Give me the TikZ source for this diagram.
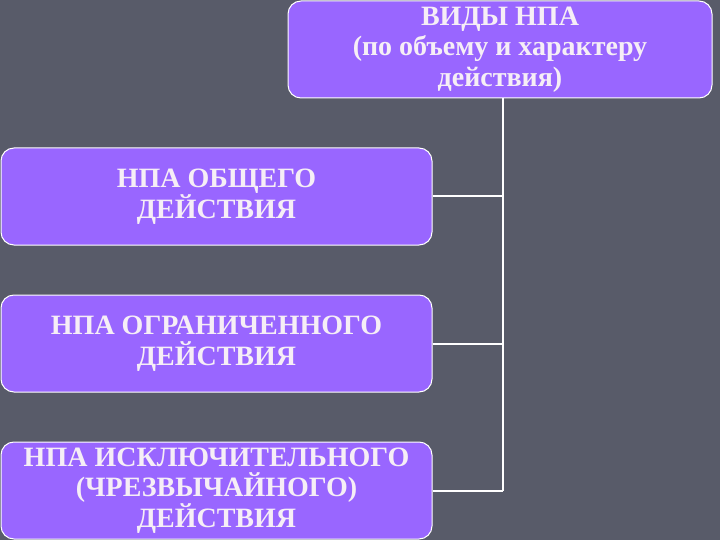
\documentclass[tikz,border=0pt]{standalone}
\usepackage{fontspec}
\setmainfont{Liberation Serif}
\begin{document}
\begin{tikzpicture}[x=1pt,y=-1pt]
\definecolor{bg}{HTML}{585B69}
\definecolor{boxfill}{HTML}{9966FF}
\definecolor{txt}{HTML}{F6EEF6}
\tikzset{
  box/.style={draw=white, line width=1pt, fill=boxfill, rounded corners=13pt,
    text=txt, align=center, inner sep=0pt,
    font=\bfseries\fontsize{28}{30.5}\selectfont},
  link/.style={draw=white, line width=2pt},
}
\fill[bg] (0,0) rectangle (720,540);
\useasboundingbox (0,0) rectangle (720,540);
\node[box, minimum width=424pt, minimum height=97pt] (top) at (500,49.5)
  {ВИДЫ НПА\\(по объему и характеру\\действия)};
\node[box, minimum width=431pt, minimum height=97pt] (b1) at (216.5,196.5)
  {НПА ОБЩЕГО\\ДЕЙСТВИЯ};
\node[box, minimum width=431pt, minimum height=97pt] (b2) at (216.5,343.5)
  {НПА ОГРАНИЧЕННОГО\\ДЕЙСТВИЯ};
\node[box, minimum width=431pt, minimum height=97pt] (b3) at (216.5,490.5)
  {НПА ИСКЛЮЧИТЕЛЬНОГО\\(ЧРЕЗВЫЧАЙНОГО)\\ДЕЙСТВИЯ};
\coordinate (j) at (503,0);
\draw[link] (j |- top.south) -- (j |- b3.east);
\draw[link] (b1.east) -- (b1.east -| j);
\draw[link] (b2.east) -- (b2.east -| j);
\draw[link] (b3.east) -- (b3.east -| j);
\end{tikzpicture}
\end{document}
